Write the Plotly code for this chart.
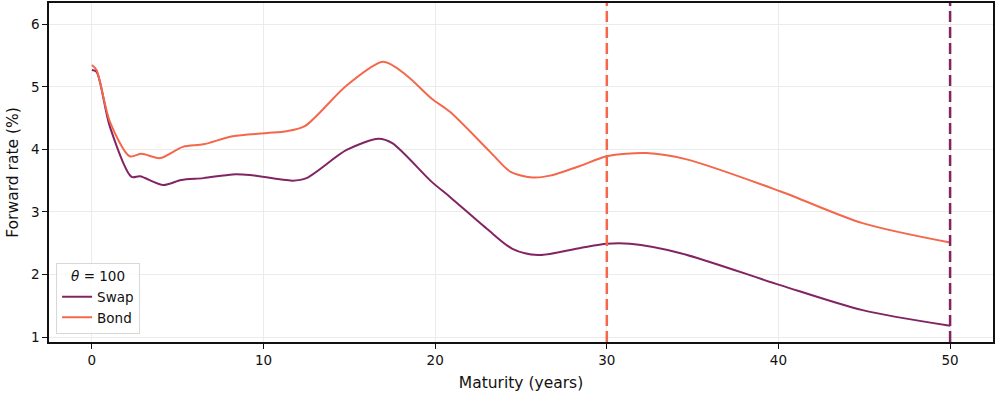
import plotly.graph_objects as go

# maturities (years) and forward rates (%)
swap_x = [0, 0.27, 1.05, 2.31, 2.8, 4.16, 5.2, 6.5, 8.2, 9.2, 11.7, 12.5,
          14.84, 16.7, 17.5, 19.8, 20.86, 23.1, 24.5, 26, 28.4, 30,
          31.35, 34.3, 40.1, 44.9, 50]
swap_y = [5.27, 5.24, 4.36, 3.56, 3.57, 3.43, 3.51, 3.54, 3.6, 3.59, 3.5, 3.54,
          3.99, 4.17, 4.1, 3.48, 3.24, 2.71, 2.41, 2.31, 2.42, 2.49,
          2.49, 2.34, 1.83, 1.43, 1.18]

bond_x = [0, 0.27, 1.05, 2.2, 2.9, 3.96, 5.3, 6.5, 8.2, 10.2, 11.35, 12.4,
          14.84, 16.98, 18.3, 19.8, 20.86, 23.2, 24.4, 25.7, 26.7, 28.4,
          30, 32.3, 34.65, 40.1, 44.9, 50]
bond_y = [5.35, 5.27, 4.44, 3.89, 3.93, 3.86, 4.04, 4.08, 4.21, 4.26, 4.29, 4.37,
          5.02, 5.4, 5.19, 4.81, 4.6, 3.96, 3.64, 3.55, 3.58, 3.73,
          3.89, 3.94, 3.84, 3.33, 2.82, 2.51]

swap_col = '#822463'
bond_col = '#F4674A'

fig = go.Figure()
fig.add_trace(go.Scatter(x=swap_x, y=swap_y, mode='lines', name='Swap',
                         line=dict(color=swap_col, width=2, shape='spline',
                                   smoothing=0.8)))
fig.add_trace(go.Scatter(x=bond_x, y=bond_y, mode='lines', name='Bond',
                         line=dict(color=bond_col, width=2, shape='spline',
                                   smoothing=0.8)))

# last observed maturities
fig.add_vline(x=30, line=dict(color=bond_col, width=2.5, dash='11px,5px'))
fig.add_vline(x=50, line=dict(color=swap_col, width=2.5, dash='11px,5px'))

axis_style = dict(showline=True, linecolor='#111111', linewidth=1.5, mirror=True,
                  ticks='outside', ticklen=5, tickcolor='#111111',
                  showgrid=True, gridcolor='#EBEBEB', gridwidth=1,
                  zeroline=False, automargin=False,
                  tickfont=dict(size=13.5, color='#111111'))

fig.update_layout(
    width=996, height=395,
    margin=dict(l=49, r=3, t=3, b=53),
    paper_bgcolor='white', plot_bgcolor='white',
    font=dict(family='DejaVu Sans', size=13.5, color='#111111'),
    xaxis=dict(range=[-2.5, 52.5], tickvals=[0, 10, 20, 30, 40, 50],
               title=dict(text='Maturity (years)', standoff=10,
                          font=dict(size=15.5)), **axis_style),
    yaxis=dict(range=[0.92, 6.34], tickvals=[1, 2, 3, 4, 5, 6],
               title=dict(text='Forward rate (%)', standoff=9,
                          font=dict(size=15.5)), **axis_style),
    legend=dict(x=0.0075, y=0.024, xanchor='left', yanchor='bottom',
                bordercolor='#D8D8D8', borderwidth=1, bgcolor='rgba(255,255,255,0.8)',
                title=dict(text='<i>θ</i> = 100', side='top center',
                           font=dict(size=13.5)),
                font=dict(size=13.5), tracegroupgap=0),
    showlegend=True,
)

# page body margin would shift the figure by 8px
fig.write_html("out.html", config={'displayModeBar': False},
               post_script="document.body.style.margin='0';")
